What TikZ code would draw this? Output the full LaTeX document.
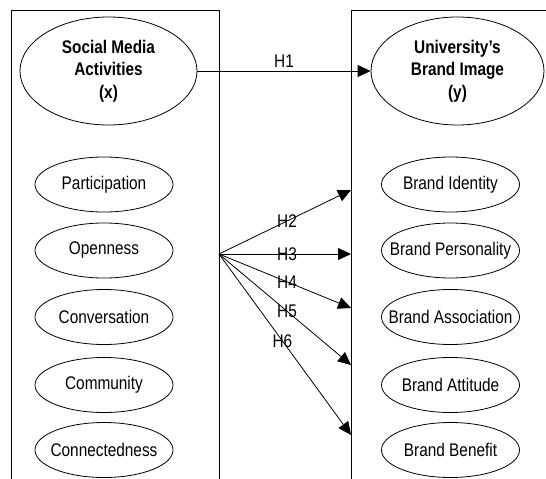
\documentclass[tikz,border=0pt]{standalone}
\usepackage{fontspec}
\setmainfont{Liberation Sans}[FakeStretch=0.84]
\usetikzlibrary{shapes.geometric,arrows.meta}
\newcommand\zbox[1]{\makebox[0pt]{#1}}
\begin{document}
\begin{tikzpicture}[x=1pt,y=-1pt,
  every node/.style={font=\fontsize{18.3}{22.5}\selectfont},
  bigell/.style={draw, ellipse, line width=0.8pt, inner sep=0pt, minimum width=#1, minimum height=108},
  smallell/.style={draw, ellipse, line width=0.8pt, inner sep=0pt, minimum width=138, minimum height=55},
  frame/.style={line width=0.9pt},
  link/.style={line width=0.8pt, -{Triangle[length=13pt,width=12pt]}},
  hlab/.style={inner sep=0pt}]
\useasboundingbox (0,0) rectangle (546,479);
% frames
\draw[frame] (11,481) -- (11,10) -- (219,10) -- (219,481);
\draw[frame] (351,481) -- (351,10) -- (548,10);
% big ellipses
\node[bigell=177] (sma) at (108.5,71) {\zbox{\begin{tabular}{@{}c@{}}\textbf{Social Media}\\\textbf{Activities}\\\textbf{(x)}\end{tabular}}};
\node[bigell=173] (ubi) at (457.5,71) {\zbox{\begin{tabular}{@{}c@{}}\textbf{University’s}\\\textbf{Brand Image}\\\textbf{(y)}\end{tabular}}};
% left items
\node[smallell] (par) at (104,184.5) {\zbox{Participation}};
\node[smallell] (ope) at (104,250.5) {\zbox{Openness}};
\node[smallell] (con) at (104,317) {\zbox{Conversation}};
\node[smallell] (com) at (104,385) {\zbox{Community}};
\node[smallell] (cnd) at (104,450) {\zbox{Connectedness}};
% right items
\node[smallell] (bid) at (450.5,184.5) {\zbox{Brand Identity}};
\node[smallell] (bpe) at (450.5,250.5) {\zbox{Brand Personality}};
\node[smallell] (bas) at (450.5,317) {\zbox{Brand Association}};
\node[smallell] (bat) at (450.5,385) {\zbox{Brand Attitude}};
\node[smallell] (bbe) at (450.5,450) {\zbox{Brand Benefit}};
% H1
\draw[link] (sma.east) -- node[hlab, above=3pt] {H1} (ubi.west);
% hub arrows
\coordinate (hub) at (219,254);
\coordinate (t2) at (351,190);
\coordinate (t3) at (351,254);
\coordinate (t4) at (351,308);
\coordinate (t5) at (351,365);
\coordinate (t6) at (351,435);
\draw[link] (hub) -- node[hlab, pos=0.515] {H2} (t2);
\draw[link] (hub) -- node[hlab, pos=0.515] {H3} (t3);
\draw[link] (hub) -- node[hlab, pos=0.515] {H4} (t4);
\draw[link] (hub) -- node[hlab, pos=0.515] {H5} (t5);
\draw[link] (hub) -- node[hlab, pos=0.48] {H6} (t6);
\end{tikzpicture}
\end{document}
